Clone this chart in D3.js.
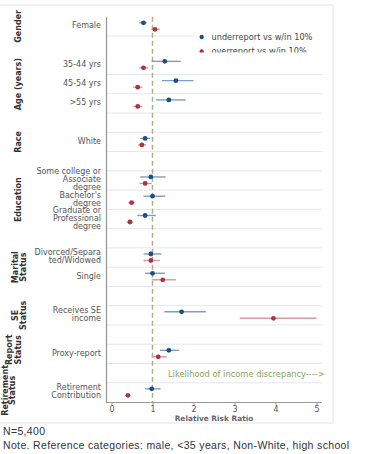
<!DOCTYPE html>
<html>
<head>
<meta charset="utf-8">
<script src="https://cdn.jsdelivr.net/npm/d3@7/dist/d3.min.js"></script>
<style>
  html, body { margin: 0; padding: 0; background: #fff; }
  svg { display: block; }
</style>
</head>
<body>
<svg id="chart" width="382" height="454"></svg>
<script>
// Row order of the plot, with blank spacer rows between variable groups
const rows = ["Female", "gap1", "35-44 yrs", "45-54 yrs", ">55 yrs", "gap2", "White", "gap3",
  "Some college", "Bachelor's", "Graduate", "gap4", "Divorced", "Single", "gap5",
  "Receives SE", "gap6", "Proxy-report", "gap7", "Retirement"];

// Category labels (multi-line) for each plotted row
const categories = ["Female", "35-44 yrs", "45-54 yrs", ">55 yrs", "White", "Some college",
  "Bachelor's", "Graduate", "Divorced", "Single", "Receives SE", "Proxy-report", "Retirement"];
const categoryLabels = [
  ["Female"], ["35-44 yrs"], ["45-54 yrs"], [">55 yrs"], ["White"],
  ["Some college or", "Associate", "degree"], ["Bachelor's", "degree"],
  ["Graduate or", "Professional", "degree"], ["Divorced/Separa", "ted/Widowed"], ["Single"],
  ["Receives SE", "income"], ["Proxy-report"], ["Retirement", "Contribution"]
];

// Relative risk ratios with 95% CI: underreport vs within 10%
const underRR = [0.78, 1.30, 1.57, 1.40, 0.82, 0.96, 1.00, 0.82, 0.96, 1.00, 1.71, 1.40, 0.98];
const underLo = [0.68, 0.98, 1.23, 1.09, 0.70, 0.70, 0.78, 0.63, 0.78, 0.82, 1.29, 1.18, 0.82];
const underHi = [0.86, 1.69, 2.00, 1.81, 0.94, 1.32, 1.31, 1.08, 1.22, 1.30, 2.30, 1.65, 1.20];

// Relative risk ratios with 95% CI: overreport vs within 10%
const overRR = [1.06, 0.78, 0.64, 0.64, 0.74, 0.82, 0.49, 0.45, 0.96, 1.25, 3.95, 1.14, 0.40];
const overLo = [0.97, 0.68, 0.53, 0.53, 0.65, 0.68, 0.41, 0.37, 0.78, 0.98, 3.13, 0.98, 0.38];
const overHi = [1.18, 0.90, 0.75, 0.75, 0.84, 0.98, 0.57, 0.53, 1.18, 1.57, 5.00, 1.35, 0.42];

// Variable group headings
const groups = [
  { lines: ["Gender"], first: "Female", last: "Female" },
  { lines: ["Age (years)"], first: "35-44 yrs", last: ">55 yrs" },
  { lines: ["Race"], first: "White", last: "White" },
  { lines: ["Education"], first: "Some college", last: "Graduate" },
  { lines: ["Marital", "Status"], first: "Divorced", last: "Single" },
  { lines: ["SE", "Status"], first: "Receives SE", last: "Receives SE" },
  { lines: ["Report", "Status"], first: "Proxy-report", last: "Proxy-report" },
  { lines: ["Retirement", "Status"], first: "Retirement", last: "Retirement" }
];

const xTicks = [0, 1, 2, 3, 4, 5];
const seriesNames = ["underreport vs w/in 10%", "overreport vs w/in 10%"];

const blue = "#1c4f86", blueCI = "#7f9dc2";
const red = "#ad343c", redCI = "#d59a9d";
const font = "'DejaVu Sans', sans-serif";

const svg = d3.select("#chart");

// Outer frame of the graph region
svg.append("rect")
  .attr("x", -1).attr("y", 5).attr("width", 334).attr("height", 418)
  .attr("fill", "none").attr("stroke", "#e4e4e4");

const plotLeft = 106, plotRight = 322, plotTop = 16.7, plotBottom = 402;

const x = d3.scaleLinear().domain([0, 5]).range([111.5, 316.5]);
const y = d3.scaleBand().domain(rows).range([plotTop, plotBottom]);
const yc = r => y(r) + y.bandwidth() / 2;

// Horizontal gridlines between rows
const bounds = rows.slice(1).map(r => y(r)).filter((v, i) => i !== 1);
svg.append("g").selectAll("line").data(bounds).join("line")
  .attr("x1", plotLeft).attr("x2", plotRight)
  .attr("y1", d => d).attr("y2", d => d)
  .attr("stroke", "#e3e7ec").attr("stroke-width", 1);

// Reference line at RRR = 1
svg.append("line")
  .attr("x1", x(1)).attr("x2", x(1))
  .attr("y1", plotTop).attr("y2", plotBottom)
  .attr("stroke", "#aab38a").attr("stroke-width", 1.5)
  .attr("stroke-dasharray", "5,3");

// Axes
const xAxis = svg.append("g")
  .attr("transform", `translate(0,${plotBottom})`)
  .call(d3.axisBottom(x).tickValues(xTicks).tickSize(3).tickSizeOuter(0).tickFormat(d3.format("d")));
xAxis.select(".domain").attr("d", `M${plotLeft},0.5H${plotRight}`).attr("stroke", "#9a9a9a");
xAxis.selectAll(".tick line").attr("stroke", "#9a9a9a");
xAxis.selectAll(".tick text").attr("fill", "#555").attr("font-family", font)
  .attr("font-size", 8).attr("dy", "0.55em");

const yAxis = svg.append("g")
  .attr("transform", `translate(${plotLeft},0)`)
  .call(d3.axisLeft(y).tickValues([]).tickSizeOuter(0));
yAxis.select(".domain").attr("stroke", "#9a9a9a").attr("stroke-width", 1.3);

svg.append("text")
  .attr("x", 214).attr("y", 421).attr("text-anchor", "middle")
  .attr("font-family", font).attr("font-size", 7.4).attr("font-weight", "bold")
  .attr("fill", "#666").text("Relative Risk Ratio");

// Category labels
const catG = svg.append("g");
categories.forEach((c, i) => {
  const lines = categoryLabels[i];
  const lh = 8;
  const cy = yc(c) - 1 - (lines.length - 1) * lh / 2;
  const t = catG.append("text")
    .attr("text-anchor", "end").attr("font-family", font).attr("font-size", 8)
    .attr("fill", "#555");
  lines.forEach((ln, j) => {
    t.append("tspan").attr("x", 101).attr("y", cy + j * lh).attr("dy", "0.35em").text(ln);
  });
});

// Group headings (rotated)
const groupX = {
  1: [18.5],
  2: [15, 23]
};
groups.forEach(g => {
  const cy = (y(g.first) + y(g.last) + y.bandwidth()) / 2;
  let xs = groupX[g.lines.length];
  let cyy = cy;
  if (g.lines[0] === "Report") { xs = [9, 18]; cyy = cy - 4; }
  if (g.lines[0] === "Retirement") { xs = [5, 12]; cyy = cy - 2; }
  g.lines.forEach((ln, j) => {
    svg.append("text")
      .attr("transform", `translate(${xs[j]},${cyy}) rotate(-90)`)
      .attr("text-anchor", "middle").attr("dy", "0.35em")
      .attr("font-family", font).attr("font-size", 8).attr("font-weight", "bold")
      .attr("fill", "#333").text(ln);
  });
});

// Estimates with confidence intervals
function drawSeries(rr, lo, hi, offset, dotColor, ciColor) {
  const g = svg.append("g");
  g.selectAll("line").data(categories).join("line")
    .attr("x1", (d, i) => x(lo[i])).attr("x2", (d, i) => x(hi[i]))
    .attr("y1", d => yc(d) + offset).attr("y2", d => yc(d) + offset)
    .attr("stroke", ciColor).attr("stroke-width", 1.4);
  g.selectAll("circle").data(categories).join("circle")
    .attr("cx", (d, i) => x(rr[i])).attr("cy", d => yc(d) + offset)
    .attr("r", 2.4).attr("fill", dotColor);
}
drawSeries(underRR, underLo, underHi, -3.5, blue, blueCI);
drawSeries(overRR, overLo, overHi, 3, red, redCI);

// Annotation
svg.append("text")
  .attr("x", 168).attr("y", yc("gap7") + 3.5)
  .attr("font-family", font).attr("font-size", 8.3).attr("fill", "#8ba05e")
  .text("Likelihood of income discrepancy---->");

// Legend box (clipped at its bottom edge)
svg.append("clipPath").attr("id", "legclip").append("rect")
  .attr("x", 194).attr("y", 28).attr("width", 128).attr("height", 24.5);
const leg = svg.append("g").attr("clip-path", "url(#legclip)");
leg.append("rect").attr("x", 194).attr("y", 28).attr("width", 128).attr("height", 24.5)
  .attr("fill", "#fff");
[blue, red].forEach((col, i) => {
  const ly = 37 + i * 14.5;
  leg.append("circle").attr("cx", 201.7).attr("cy", ly).attr("r", 2.2).attr("fill", col);
  leg.append("text").attr("x", 211.5).attr("y", ly).attr("dy", "0.35em")
    .attr("font-family", font).attr("font-size", 8.2).attr("fill", "#444")
    .text(seriesNames[i]);
});

// Footnotes
const notes = [
  "N=5,400",
  "Note. Reference categories: male, <35 years, Non-White, high school",
  "graduate or less, married, no SE income, SIPP self-report, no contribution"
];
notes.forEach((n, i) => {
  svg.append("text")
    .attr("x", 3).attr("y", 435 + i * 14.2)
    .attr("font-family", "'Liberation Sans', Arial, sans-serif").attr("font-size", 10.5)
    .attr("letter-spacing", 0.35)
    .attr("fill", "#333").text(n);
});
</script>
</body>
</html>
